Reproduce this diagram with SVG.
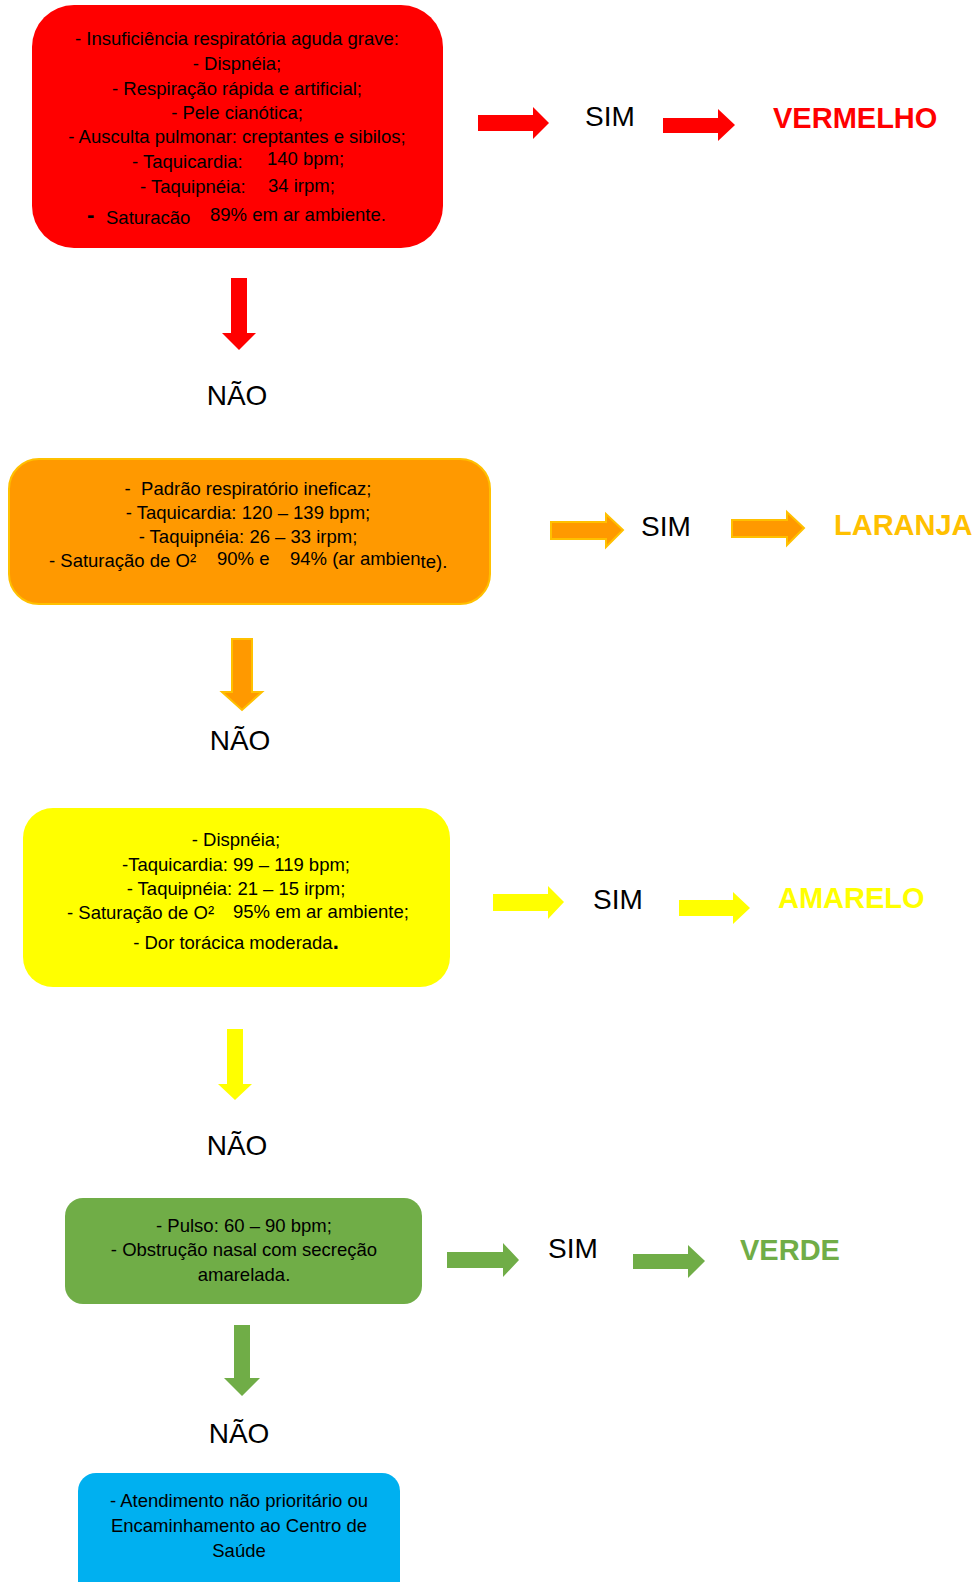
<svg xmlns="http://www.w3.org/2000/svg" width="975" height="1582" viewBox="0 0 975 1582">
  <style>
    text { font-family: "Liberation Sans", Arial, sans-serif; fill: #000; }
    .body { font-size: 18.5px; }
    .mid { text-anchor: middle; }
    .label { font-size: 28px; }
    .result { font-size: 29px; font-weight: bold; }
    .red { fill: #FF0000; }
    .orange { fill: #FF9900; stroke: #FFC000; stroke-width: 2; }
    .yellow { fill: #FFFF00; }
    .green { fill: #70AD47; }
    .blue { fill: #00B0F0; }
    text.t-red { fill: #FF0000; }
    text.t-orange { fill: #FFC000; }
    text.t-yellow { fill: #FFFF00; }
    text.t-green { fill: #70AD47; }
    .dash { font-size: 22px; font-weight: bold; }
  </style>
  <rect width="975" height="1582" fill="#FFFFFF"/>

  <!-- Block arrows between steps -->
  <g id="connectors">
    <polygon class="red" points="478,115 533,115 533,107 549,123 533,139 533,131 478,131"/>
    <polygon class="red" points="663,118 718,118 718,109 735,125 718,141 718,133 663,133"/>
    <polygon class="red" points="231,278 247,278 247,333 256,333 239,350 222,333 231,333"/>

    <polygon class="orange" points="551,522 606,522 606,514 623,530 606,547 606,539 551,539"/>
    <polygon class="orange" points="732,520 787,520 787,512 804,528 787,545 787,537 732,537"/>
    <polygon class="orange" points="232,639 252,639 252,692 262,692 242,710 222,692 232,692"/>

    <polygon class="yellow" points="493,894 548,894 548,886 564,902 548,919 548,911 493,911"/>
    <polygon class="yellow" points="679,900 733,900 733,892 750,908 733,924 733,916 679,916"/>
    <polygon class="yellow" points="227,1029 243,1029 243,1084 252,1084 235,1100 218,1084 227,1084"/>

    <polygon class="green" points="447,1252 503,1252 503,1243 519,1260 503,1277 503,1268 447,1268"/>
    <polygon class="green" points="633,1254 688,1254 688,1245 705,1261 688,1278 688,1269 633,1269"/>
    <polygon class="green" points="234,1325 250,1325 250,1378 260,1378 242,1396 224,1378 234,1378"/>
  </g>

  <!-- Step 1: red criteria -->
  <g id="step-red">
    <rect class="red" x="32" y="5" width="411" height="243" rx="42"/>
    <text class="body mid" x="237" y="45">- Insuficiência respiratória aguda grave:</text>
    <text class="body mid" x="237" y="70">- Dispnéia;</text>
    <text class="body mid" x="237" y="95">- Respiração rápida e artificial;</text>
    <text class="body mid" x="237" y="119">- Pele cianótica;</text>
    <text class="body mid" x="237" y="143">- Ausculta pulmonar: creptantes e sibilos;</text>
    <text class="body" x="132" y="168">- Taquicardia:</text>
    <text class="body" x="267" y="165">140 bpm;</text>
    <text class="body" x="140" y="193">- Taquipnéia:</text>
    <text class="body" x="268" y="192">34 irpm;</text>
    <text class="dash" x="87" y="222">-</text>
    <text class="body" x="106" y="224">Saturacão</text>
    <text class="body" x="210" y="221">89% em ar ambiente.</text>
  </g>
  <g id="sim-red"><text class="label" x="585" y="126">SIM</text></g>
  <g id="result-red"><text class="result t-red" x="773" y="128">VERMELHO</text></g>
  <g id="nao-red"><text class="label mid" x="237" y="405">NÃO</text></g>

  <!-- Step 2: orange criteria -->
  <g id="step-orange">
    <rect class="orange" x="9" y="459" width="481" height="145" rx="30"/>
    <text class="body mid" x="248" y="495" xml:space="preserve">-  Padrão respiratório ineficaz;</text>
    <text class="body mid" x="248" y="519">- Taquicardia: 120 – 139 bpm;</text>
    <text class="body mid" x="248" y="543">- Taquipnéia: 26 – 33 irpm;</text>
    <text class="body" x="49" y="567">- Saturação de O²</text>
    <text class="body" x="217" y="565">90% e</text>
    <text class="body" x="290" y="565">94% (ar ambien<tspan dy="3">te).</tspan></text>
  </g>
  <g id="sim-orange"><text class="label" x="641" y="536">SIM</text></g>
  <g id="result-orange"><text class="result t-orange" x="834" y="535">LARANJA</text></g>
  <g id="nao-orange"><text class="label mid" x="240" y="750">NÃO</text></g>

  <!-- Step 3: yellow criteria -->
  <g id="step-yellow">
    <rect class="yellow" x="23" y="808" width="427" height="179" rx="30"/>
    <text class="body mid" x="236" y="846">- Dispnéia;</text>
    <text class="body mid" x="236" y="871">-Taquicardia: 99 – 119 bpm;</text>
    <text class="body mid" x="236" y="895">- Taquipnéia: 21 – 15 irpm;</text>
    <text class="body" x="67" y="919">- Saturação de O²</text>
    <text class="body" x="233" y="918">95% em ar ambiente;</text>
    <text class="body mid" x="236" y="949">- Dor torácica moderada<tspan class="dash">.</tspan></text>
  </g>
  <g id="sim-yellow"><text class="label" x="593" y="909">SIM</text></g>
  <g id="result-yellow"><text class="result t-yellow" x="778" y="908">AMARELO</text></g>
  <g id="nao-yellow"><text class="label mid" x="237" y="1155">NÃO</text></g>

  <!-- Step 4: green criteria -->
  <g id="step-green">
    <rect class="green" x="65" y="1198" width="357" height="106" rx="18"/>
    <text class="body mid" x="244" y="1232">- Pulso: 60 – 90 bpm;</text>
    <text class="body mid" x="244" y="1256">- Obstrução nasal com secreção</text>
    <text class="body mid" x="244" y="1281">amarelada.</text>
  </g>
  <g id="sim-green"><text class="label" x="548" y="1258">SIM</text></g>
  <g id="result-green"><text class="result t-green" x="740" y="1260">VERDE</text></g>
  <g id="nao-green"><text class="label mid" x="239" y="1443">NÃO</text></g>

  <!-- Final outcome: blue -->
  <g id="step-blue">
    <rect class="blue" x="78" y="1473" width="322" height="130" rx="18"/>
    <text class="body mid" x="239" y="1507">- Atendimento não prioritário ou</text>
    <text class="body mid" x="239" y="1532">Encaminhamento ao Centro de</text>
    <text class="body mid" x="239" y="1557">Saúde</text>
  </g>
</svg>
